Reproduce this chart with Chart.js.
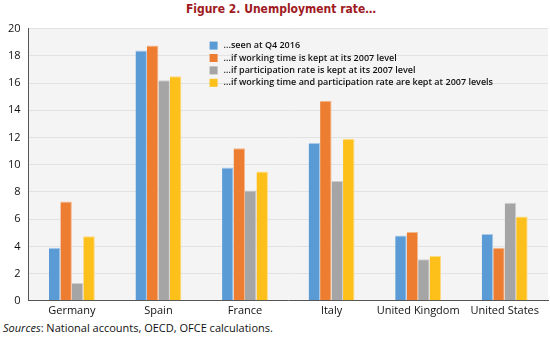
<!DOCTYPE html>
<html>
<head>
<meta charset="utf-8">
<script src="https://cdn.jsdelivr.net/npm/chart.js@4"></script>
<style>
  body { margin: 0; background: #fff; width: 550px; height: 338px; overflow: hidden; position: relative; font-family: "Open Sans", sans-serif; }
  #title { position: absolute; top: 2px; left: 6px; width: 550px; text-align: center; color: #a0191e; font: bold 12px "DejaVu Sans Condensed", sans-serif; }
  #box { position: absolute; top: 14px; left: 0; width: 550px; height: 306px; }
  #src { position: absolute; top: 320px; left: 3px; font-size: 11px; color: #111; }
</style>
</head>
<body>
<div id="title">Figure 2. Unemployment rate…</div>
<div id="box"><canvas id="myChart"></canvas></div>
<div id="src"><i>Sources</i>: National accounts, OECD, OFCE calculations.</div>
<script>
// categories and series
let countries = ['Germany', 'Spain', 'France', 'Italy', 'United Kingdom', 'United States'];
let seriesNames = [
	'...seen at Q4 2016',
	'…if working time is kept at its 2007 level',
	'…if participation rate is kept at its 2007 level',
	'…if working time and participation rate are kept at 2007 levels',
];
let seenQ4 = [3.9, 18.4, 9.8, 11.6, 4.8, 4.9];
let workingTime = [7.3, 18.75, 11.2, 14.7, 5.05, 3.9];
let participation = [1.3, 16.2, 8.1, 8.8, 3.05, 7.2];
let bothKept = [4.75, 16.5, 9.5, 11.9, 3.3, 6.2];
let yTicks = [0, 2, 4, 6, 8, 10, 12, 14, 16, 18, 20];

let colors = ['#5b9bd5', '#ed7d31', '#a5a5a5', '#fdbf1a'];
let edges = ['#a9c9ea', '#f6b88d', '#cfcfcf', '#fedc80'];

// plot background
const bgPlugin = {
	id: 'bg',
	beforeDraw(chart) {
		const a = chart.chartArea;
		const ctx = chart.ctx;
		ctx.save();
		ctx.fillStyle = '#f4f4f4';
		ctx.fillRect(a.left, a.top, a.right - a.left, a.bottom - a.top);
		ctx.restore();
	},
};

// legend sits inside the plot
const legendPlugin = {
	id: 'innerLegend',
	afterDraw(chart) {
		const ctx = chart.ctx;
		const x = chart.chartArea.left + 181;
		let y = chart.chartArea.top + 17;
		ctx.save();
		ctx.font = '600 9px "Open Sans", sans-serif';
		ctx.textBaseline = 'middle';
		chart.data.datasets.forEach((ds, i) => {
			ctx.fillStyle = ds.backgroundColor;
			ctx.fillRect(x, y - 4, 8, 8);
			ctx.fillStyle = '#111';
			ctx.fillText(ds.label, x + 14, y);
			y += 12.4;
		});
		ctx.restore();
	},
};

const all = [seenQ4, workingTime, participation, bothKept];

var chartArea = document.getElementById('myChart').getContext('2d');
var myChart = new Chart(chartArea, {
	type: 'bar',
	data: {
		labels: countries,
		datasets: all.map((d, i) => ({
			label: seriesNames[i],
			data: d,
			backgroundColor: colors[i],
			borderColor: edges[i],
			borderWidth: { top: 1, left: 0, right: 1, bottom: 0 },
			barPercentage: 1,
			categoryPercentage: 0.53,
		})),
	},
	options: {
		responsive: true,
		maintainAspectRatio: false,
		animation: false,
		layout: { padding: { left: 0, right: 2, top: 6, bottom: 0 } },
		plugins: {
			legend: { display: false },
			tooltip: { enabled: false },
		},
		scales: {
			x: {
				grid: { display: false, drawTicks: false },
				border: { color: '#555', width: 1 },
				ticks: { color: '#111', font: { size: 11, family: '"Open Sans", sans-serif' }, padding: 3, maxRotation: 0 },
			},
			y: {
				min: 0,
				max: 20,
				afterBuildTicks: (axis) => { axis.ticks = yTicks.map((v) => ({ value: v })); },
				grid: { color: '#e2e2e2', drawTicks: false },
				border: { color: '#555', width: 1 },
				ticks: { color: '#111', font: { size: 11, family: '"Open Sans", sans-serif' }, padding: 8 },
			},
		},
	},
	plugins: [bgPlugin, legendPlugin],
});
</script>
</body>
</html>
